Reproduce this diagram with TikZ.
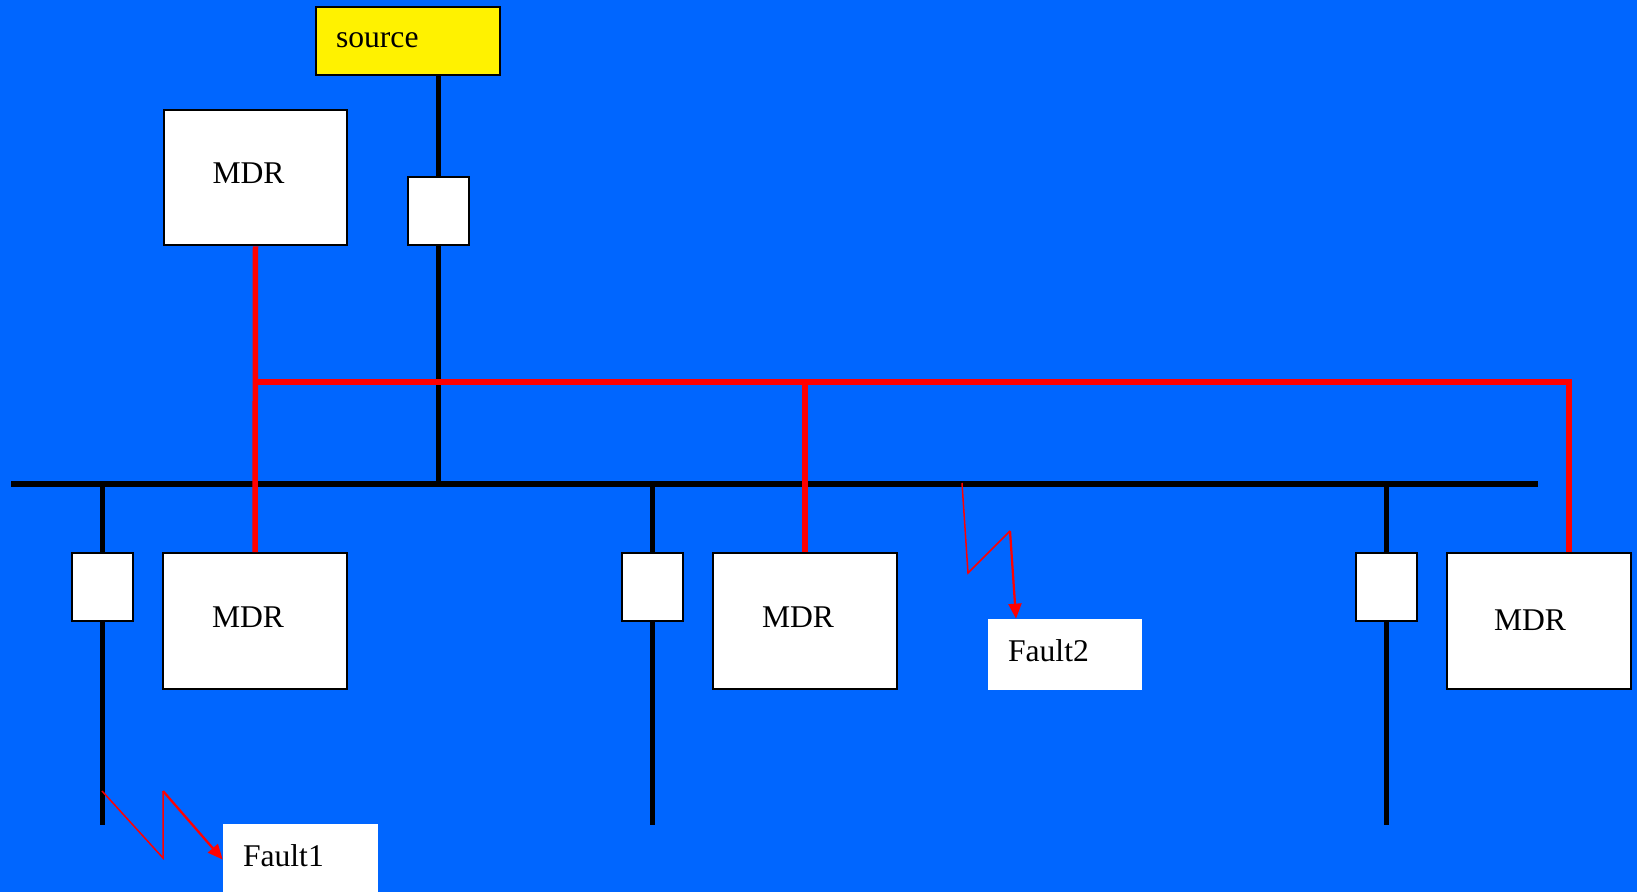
\documentclass[tikz,border=0pt]{standalone}
\usepackage{fontspec}
\setmainfont{Liberation Serif}
\usetikzlibrary{arrows.meta,positioning}
\definecolor{slideBlue}{HTML}{0066FF}
\definecolor{wireRed}{HTML}{FF0000}

\begin{document}
\begin{tikzpicture}[
    x=0.02cm, y=-0.02cm,
    font=\fontsize{18}{21}\selectfont,
    mdr/.style = {rectangle, draw, line width=0.04cm, fill=white, inner xsep=0.98cm, inner ysep=0pt, text width=1.72cm, align=left, text depth=0.16cm, minimum height=2.72cm},
    breaker/.style = {rectangle, draw, line width=0.04cm, fill=white, inner sep=0pt, minimum width=1.22cm, minimum height=1.36cm},
    label/.style = {rectangle, fill=white, inner xsep=0.4cm, inner ysep=0pt, text width=2.3cm, align=left, text depth=0.14cm, minimum height=1.42cm},
    power/.style = {line width=0.11cm, color=black},
    signal/.style = {line width=0.11cm, color=wireRed},
    zigzag/.style = {line width=0.03cm, color=wireRed},
    fault/.style = {line width=0.045cm, color=wireRed, -{Triangle[length=0.3cm,width=0.26cm]}}
]
    % Background
    \useasboundingbox (0,0) rectangle (1637,892);
    \fill [slideBlue] (0,0) rectangle (1637,892);

    % Source and feeding breaker
    \node [rectangle, draw, line width=0.04cm, fill=yellow, inner xsep=0.4cm, inner ysep=0pt, text width=2.88cm, align=left, text depth=0.04cm, minimum height=1.36cm] (source) at (408,41) {source};
    \node [breaker] (brk0) at (438.5,211) {};
    \node [mdr] (mdrTop) at (255.5,177.5) {MDR};

    % Feeders
    \node [breaker] (brk1) at (102.5,587) {};
    \node [breaker] (brk2) at (652.5,587) {};
    \node [breaker] (brk3) at (1386.5,587) {};
    \node [mdr] (mdrA) at (255,621) {MDR};
    \node [mdr] (mdrB) at (805,621) {MDR};
    \node [mdr, inner xsep=0.94cm, text width=1.8cm, text depth=0.04cm] (mdrC) at (1539,621) {MDR};

    % Fault labels
    \node [label, text width=2.3cm] (fault1) at (300.5,859.5) {Fault1};
    \node [label, text width=2.28cm] (fault2) at (1065,654.5) {Fault2};

    % Bus and lines
    \coordinate (busL) at (11,484);
    \coordinate (busR) at (1538,484);
    \coordinate (feedEnd) at (0,825);
    \draw [power] (busL) -- (busR);
    \draw [power] (brk0 |- source.south) -- (brk0.north);
    \draw [power] (brk0.south) -- (brk0 |- busL);
    \draw [power] (brk1 |- busL) -- (brk1.north);
    \draw [power] (brk1.south) -- (brk1 |- feedEnd);
    \draw [power] (brk2 |- busL) -- (brk2.north);
    \draw [power] (brk2.south) -- (brk2 |- feedEnd);
    \draw [power] (brk3 |- busL) -- (brk3.north);
    \draw [power] (brk3.south) -- (brk3 |- feedEnd);

    % MDR communication
    \coordinate (ctrlR) at (1569,382);
    \draw [signal] (mdrTop.south) -- (mdrA.north);
    \draw [signal] (mdrTop.south |- ctrlR) -- (ctrlR) -- (ctrlR |- mdrC.north);
    \draw [signal] (mdrB.north |- ctrlR) -- (mdrB.north);

    % Faults
    \coordinate (f1tap) at (102,791);
    \coordinate (f1a) at (163,858);
    \coordinate (f1b) at (163,791);
    \draw [zigzag] (f1tap) -- (f1a) -- (f1b);
    \draw [fault] (f1b) -- (fault1.west);
    \coordinate (f2tap) at (962,483);
    \coordinate (f2a) at (968,573);
    \coordinate (f2b) at (1010,531);
    \draw [zigzag] (f2tap) -- (f2a) -- (f2b);
    \draw [fault] (f2b) -- (1016,0 |- fault2.north);
\end{tikzpicture}
\end{document}
